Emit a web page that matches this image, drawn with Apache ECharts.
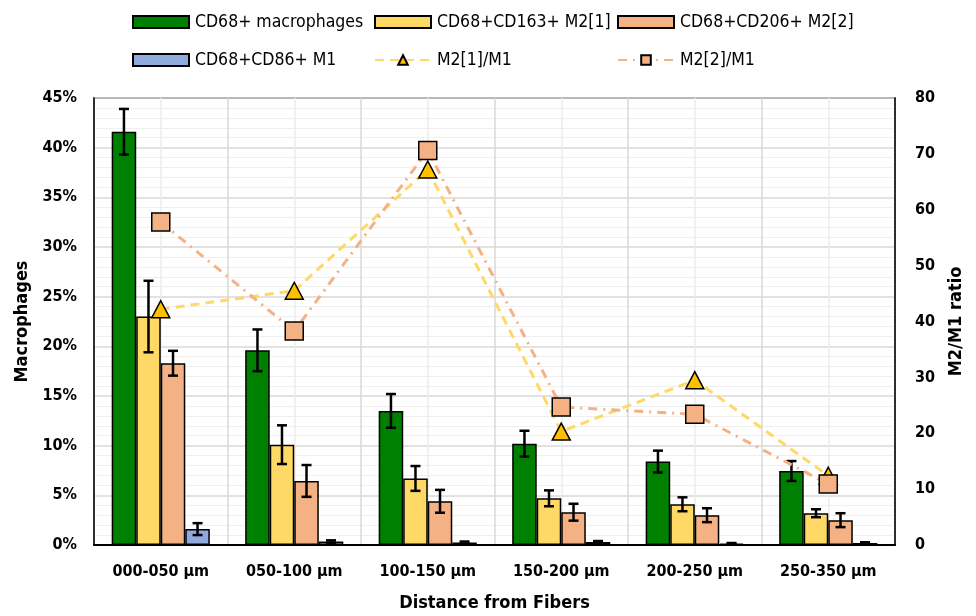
<!DOCTYPE html>
<html>
<head>
<meta charset="utf-8">
<script src="https://cdn.jsdelivr.net/npm/echarts@6/dist/echarts.min.js"></script>
<style>
  html, body { margin: 0; padding: 0; background: #fff; }
  #main { width: 976px; height: 616px; }
</style>
</head>
<body>
<div id="main"></div>
<script>
// categories
var cats = ['000-050 µm', '050-100 µm', '100-150 µm', '150-200 µm', '200-250 µm', '250-350 µm'];

// bar values (% of cells) and their error bars
var macro    = [41.6, 19.6, 13.5, 10.2, 8.4, 7.45];
var macroErr = [2.3, 2.1, 1.7, 1.3, 1.1, 1.0];
var m2a      = [23.0, 10.1, 6.7, 4.7, 4.1, 3.2];
var m2aErr   = [3.6, 1.95, 1.25, 0.8, 0.7, 0.4];
var m2b      = [18.3, 6.45, 4.4, 3.3, 3.0, 2.5];
var m2bErr   = [1.25, 1.6, 1.15, 0.85, 0.7, 0.7];
var m1       = [1.6, 0.35, 0.25, 0.3, 0.15, 0.2];
var m1Err    = [0.6, 0.12, 0.1, 0.1, 0.05, 0.08];

// ratios on the right axis
var ratioA = [42.2, 45.5, 67.2, 20.3, 29.5, 12.4];
var ratioB = [57.8, 38.3, 70.6, 24.7, 23.4, 10.9];

// axis ticks
var leftTicks = [0, 5, 10, 15, 20, 25, 30, 35, 40, 45];
var rightTicks = [0, 10, 20, 30, 40, 50, 60, 70, 80];

var FONT = "'Liberation Sans Narrow', 'DejaVu Sans Condensed', 'Liberation Sans', sans-serif";
var GAP = 0.265;

function errSeries(idx, vals, errs) {
  var data = vals.map(function (v, i) { return [i, v, errs[i]]; });
  return {
    type: 'custom',
    xAxisIndex: 0,
    yAxisIndex: 0,
    z: 5,
    silent: true,
    data: data,
    renderItem: function (params, api) {
      var x = api.value(0), v = api.value(1), e = api.value(2);
      var band = api.size([1, 0])[0];
      var bw = band * (1 - GAP) / 4;
      var off = (idx - 1.5) * bw;
      var top = api.coord([x, v + e]);
      var bot = api.coord([x, v - e]);
      var cx = top[0] + off;
      var style = { stroke: '#000', lineWidth: 2.5 };
      return {
        type: 'group',
        children: [
          { type: 'line', shape: { x1: cx, y1: top[1], x2: cx, y2: bot[1] }, style: style },
          { type: 'line', shape: { x1: cx - 5, y1: top[1], x2: cx + 5, y2: top[1] }, style: style },
          { type: 'line', shape: { x1: cx - 5, y1: bot[1], x2: cx + 5, y2: bot[1] }, style: style }
        ]
      };
    }
  };
}

function barSeries(name, vals, color) {
  return {
    name: name,
    type: 'bar',
    xAxisIndex: 0,
    yAxisIndex: 0,
    data: vals,
    barGap: '0%',
    barCategoryGap: (GAP * 100) + '%',
    itemStyle: { color: color, borderColor: '#000', borderWidth: 1.5 }
  };
}

// one legend per entry so each sits where the reference puts it
function legendItem(left, top, item) {
  return {
    left: left,
    top: top,
    padding: 0,
    itemWidth: 56,
    itemHeight: 12,
    itemGap: 0,
    textStyle: { fontFamily: FONT, fontSize: 17.5, color: '#000', padding: [0, 0, 0, 1] },
    data: [item]
  };
}

var chart = echarts.init(document.getElementById('main'));
chart.setOption({
  animation: false,
  textStyle: { fontFamily: FONT },
  legend: [
    legendItem(132, 13, { name: 'CD68+ macrophages', icon: 'rect' }),
    legendItem(374, 13, { name: 'CD68+CD163+ M2[1]', icon: 'rect' }),
    legendItem(617, 13, { name: 'CD68+CD206+ M2[2]', icon: 'rect' }),
    legendItem(132, 51, { name: 'CD68+CD86+ M1', icon: 'rect' }),
    legendItem(374, 51, { name: 'M2[1]/M1' }),
    legendItem(617, 51, { name: 'M2[2]/M1' })
  ],
  grid: {
    left: 94, right: 81, top: 98, bottom: 71,
    outerBoundsMode: 'none',
    containLabel: false,
    show: true, borderColor: '#222', borderWidth: 1.5
  },
  xAxis: [
    {
      type: 'category',
      data: cats,
      name: 'Distance from Fibers',
      nameLocation: 'middle',
      nameGap: 49,
      nameTextStyle: { fontFamily: FONT, fontSize: 18, fontWeight: 'bold', color: '#000' },
      axisLine: { lineStyle: { color: '#000', width: 2 } },
      axisTick: { show: false },
      axisLabel: { margin: 19, fontFamily: FONT, fontSize: 16, fontWeight: 'bold', color: '#000' },
      splitLine: { show: false }
    },
    {
      type: 'value',
      min: 0, max: cats.length, interval: 1,
      show: true,
      axisLine: { show: false },
      axisTick: { show: false },
      axisLabel: { show: false },
      splitLine: { show: true, lineStyle: { color: '#D9D9D9', width: 1.5 } },
      minorTick: { show: false, splitNumber: 2 },
      minorSplitLine: { show: true, lineStyle: { color: '#EDEDED', width: 1.5 } }
    }
  ],
  yAxis: [
    {
      type: 'value',
      min: leftTicks[0], max: leftTicks[leftTicks.length - 1], interval: 5,
      name: 'Macrophages',
      nameLocation: 'middle',
      nameGap: 63,
      nameTextStyle: { fontFamily: FONT, fontSize: 18, fontWeight: 'bold', color: '#000' },
      axisLine: { show: true, lineStyle: { color: '#000', width: 1.5 } },
      axisTick: { show: false },
      axisLabel: { margin: 17, formatter: '{value}%', fontFamily: FONT, fontSize: 16, fontWeight: 'bold', color: '#000' },
      splitLine: { show: true, lineStyle: { color: '#D9D9D9', width: 1.5 } },
      minorTick: { show: false, splitNumber: 5 },
      minorSplitLine: { show: true, lineStyle: { color: '#EFEFEF', width: 1.2 } }
    },
    {
      type: 'value',
      min: rightTicks[0], max: rightTicks[rightTicks.length - 1], interval: 10,
      name: 'M2/M1 ratio',
      nameLocation: 'middle',
      nameGap: 52,
      nameRotate: 90,
      nameTextStyle: { fontFamily: FONT, fontSize: 18, fontWeight: 'bold', color: '#000' },
      axisLine: { show: true, lineStyle: { color: '#000', width: 1.5 } },
      axisTick: { show: false },
      axisLabel: { margin: 20, fontFamily: FONT, fontSize: 16, fontWeight: 'bold', color: '#000' },
      splitLine: { show: false }
    }
  ],
  series: [
    barSeries('CD68+ macrophages', macro, '#008000'),
    barSeries('CD68+CD163+ M2[1]', m2a, '#FFD966'),
    barSeries('CD68+CD206+ M2[2]', m2b, '#F4B183'),
    barSeries('CD68+CD86+ M1', m1, '#8FAADC'),
    errSeries(0, macro, macroErr),
    errSeries(1, m2a, m2aErr),
    errSeries(2, m2b, m2bErr),
    errSeries(3, m1, m1Err),
    {
      name: 'M2[1]/M1',
      type: 'line',
      xAxisIndex: 0,
      yAxisIndex: 1,
      z: 6,
      data: ratioA,
      symbol: 'triangle',
      symbolSize: [18, 17],
      lineStyle: { color: '#FFD966', width: 3, type: [9, 6] },
      itemStyle: { color: '#FFC000', borderColor: '#000', borderWidth: 1.5 }
    },
    {
      name: 'M2[2]/M1',
      type: 'line',
      xAxisIndex: 0,
      yAxisIndex: 1,
      z: 7,
      data: ratioB,
      symbol: 'rect',
      symbolSize: 18,
      lineStyle: { color: '#F4B183', width: 3, type: [9, 6, 2, 6] },
      itemStyle: { color: '#F4B183', borderColor: '#000', borderWidth: 1.5 }
    }
  ]
});
</script>
</body>
</html>
